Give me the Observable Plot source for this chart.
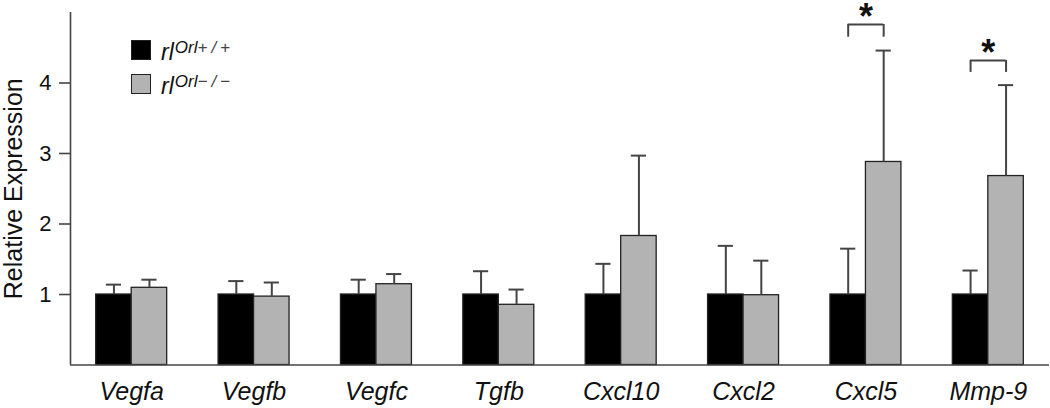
<!DOCTYPE html>
<html>
<head>
<meta charset="utf-8">
<script src="https://cdn.jsdelivr.net/npm/d3@7"></script>
<script src="https://cdn.jsdelivr.net/npm/@observablehq/plot@0.6"></script>
<style>
  html, body { margin: 0; padding: 0; background: #fff; }
  #wrap { position: relative; width: 1050px; height: 408px; font-family: "Liberation Sans", Arial, sans-serif; }
  #legend { position: absolute; left: 131px; top: 40px; }
  .row { display: flex; align-items: center; height: 20px; margin-bottom: 13.5px; }
  .sw { width: 18px; height: 18px; border: 1.2px solid #222; box-sizing: content-box; margin-right: 10px; }
  .lab { font-style: italic; font-size: 23px; color: #111; line-height: 20px; white-space: nowrap; }
  .lab sup { font-size: 17px; vertical-align: 7px; margin-left: 1px; }
  .lab sup span { color: #444; letter-spacing: 4px; font-weight: 300; }
</style>
</head>
<body>
<div id="wrap">
  <div id="chart"></div>
  <div id="legend"></div>
</div>
<script>
// ---- data ----
const genes = ["Vegfa", "Vegfb", "Vegfc", "Tgfb", "Cxcl10", "Cxcl2", "Cxcl5", "Mmp-9"];
const wtMean = [1, 1, 1, 1, 1, 1, 1, 1];
const wtErr  = [0.14, 0.19, 0.21, 0.33, 0.435, 0.69, 0.65, 0.34];
const koMean = [1.095, 0.97, 1.146, 0.854, 1.83, 0.99, 2.88, 2.68];
const koErr  = [0.115, 0.20, 0.144, 0.216, 1.14, 0.49, 1.58, 1.29];
const seriesNames = ["+/+", "\u2212/\u2212"];
const seriesColors = ["#000000", "#b3b3b3"];
const sigGenes = ["Cxcl5", "Mmp-9"];
const sigTop = [4.83, 4.32];
const sigLegBottom = [4.65, 4.15];
const yTicks = [1, 2, 3, 4];

// ---- build table ----
const W = 0.29;   // bar width in group-step units
const rows = [];
genes.forEach((g, i) => {
  rows.push({i, gene: g, s: 0, x1: i - W, x2: i, xc: i - W / 2, mean: wtMean[i], top: wtMean[i] + wtErr[i]});
  rows.push({i, gene: g, s: 1, x1: i, x2: i + W, xc: i + W / 2, mean: koMean[i], top: koMean[i] + koErr[i]});
});
const sig = sigGenes.map((g, k) => ({i: genes.indexOf(g), top: sigTop[k], bottom: sigLegBottom[k]}));
const CAP = 0.062;
const axisColor = "#444";

const plot = Plot.plot({
  width: 1050,
  height: 408,
  marginLeft: 70,
  marginRight: 1,
  marginTop: 12,
  marginBottom: 43.5,
  style: {fontFamily: "'Liberation Sans', Arial, sans-serif", background: "#fff", color: "#111"},
  x: {type: "linear", domain: [-0.5, genes.length - 0.5], axis: null},
  y: {domain: [0, 5], axis: null},
  marks: [
    Plot.rectY(rows, {x1: "x1", x2: "x2", y1: 0, y2: "mean", fill: d => seriesColors[d.s], stroke: "#222", strokeWidth: 1.3}),
    Plot.ruleX(rows, {x: "xc", y1: "mean", y2: "top", stroke: axisColor, strokeWidth: 2}),
    Plot.ruleY(rows, {y: "top", x1: d => d.xc - CAP, x2: d => d.xc + CAP, stroke: axisColor, strokeWidth: 2}),
    // significance brackets
    Plot.ruleY(sig, {y: "top", x1: d => d.i - W / 2, x2: d => d.i + W / 2, stroke: axisColor, strokeWidth: 2}),
    Plot.ruleX(sig, {x: d => d.i - W / 2, y1: "bottom", y2: "top", stroke: axisColor, strokeWidth: 2}),
    Plot.ruleX(sig, {x: d => d.i + W / 2, y1: "bottom", y2: "top", stroke: axisColor, strokeWidth: 2}),
    Plot.text(sig, {x: "i", y: "top", text: () => "*", fontSize: 36, fontWeight: "bold", dy: 5, lineAnchor: "bottom", fill: "#111"}),
    // axes
    Plot.ruleY([0], {stroke: axisColor, strokeWidth: 1.6}),
    Plot.ruleX([-0.5], {y1: 0, y2: 5, stroke: axisColor, strokeWidth: 1.6}),
    Plot.axisY({ticks: yTicks, tickFormat: d => String(d), tickSize: 11, tickPadding: 8, fontSize: 22, stroke: axisColor, strokeWidth: 1.6, label: null}),
    Plot.axisX({ticks: d3.range(genes.length), tickFormat: i => genes[i], tickSize: 0, tickPadding: 17, fontSize: 25, fontStyle: "italic", label: null}),
    Plot.text(["Relative Expression"], {frameAnchor: "left", dx: -57, rotate: -90, textAnchor: "middle", fontSize: 25, fill: "#111"})
  ]
});
document.getElementById("chart").appendChild(plot);

// legend
const legend = document.getElementById("legend");
seriesNames.forEach((n, k) => {
  const row = document.createElement("div");
  row.className = "row";
  row.innerHTML = `<div class="sw" style="background:${seriesColors[k]}"></div><div class="lab">rl<sup>Orl<span>${n}</span></sup></div>`;
  legend.appendChild(row);
});
</script>
</body>
</html>
